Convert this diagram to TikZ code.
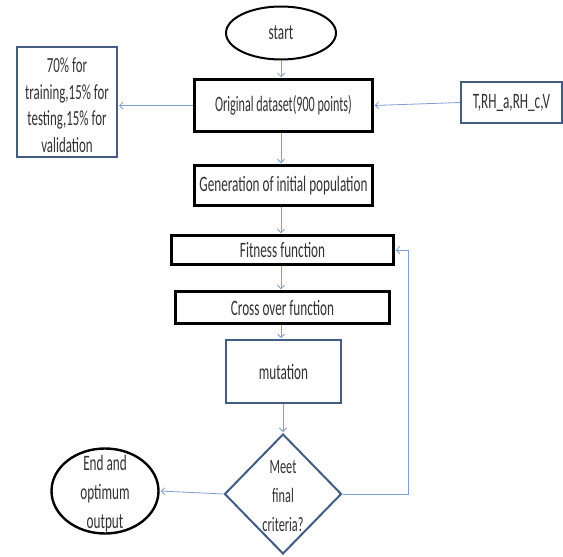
\documentclass[tikz,border=0pt]{standalone}
\usepackage{fontspec}
\setmainfont{Carlito}[FakeStretch=0.6]
\newfontfamily\tightfont{Carlito}[FakeStretch=0.55]
\usetikzlibrary{shapes.geometric,arrows.meta}
\definecolor{conncol}{RGB}{128,158,208}
\definecolor{bluebd}{RGB}{68,92,132}
\definecolor{txtcol}{RGB}{50,50,50}
\begin{document}
\begin{tikzpicture}[x=1pt,y=-1pt,
  font=\fontsize{22}{29}\selectfont, text=txtcol,
  boxk/.style={rectangle, draw=black, line width=2.5pt, inner sep=0pt},
  boxb/.style={rectangle, draw=bluebd, line width=2pt, inner sep=0pt},
  ovalk/.style={ellipse, draw=black, line width=2pt, inner sep=0pt},
  txtn/.style={align=center, inner sep=0pt},
  conn/.style={draw=conncol, line width=0.8pt, -{Straight Barb[length=3.5pt,width=7pt]}, shorten >=1pt}]
\useasboundingbox (0,0) rectangle (563,557);
\fill[white] (0,0) rectangle (563,557);
% nodes
\node[ovalk, minimum width=110pt, minimum height=53pt] (start) at (281,33) {start};
\node[boxk, minimum width=178pt, minimum height=52pt, font=\tightfont\fontsize{22}{29}\selectfont] (orig) at (283.5,105.5) {Original dataset(900 points)};
\node[boxb, minimum width=100pt, minimum height=110pt] (split) at (67,102) {};
\node[txtn, font=\fontsize{21.5}{26.5}\selectfont] (splitt) at (67,105) {70\% for\\training,15\% for\\testing,15\% for\\validation};
\node[boxb, minimum width=101pt, minimum height=41pt] (inp) at (511.5,102.5) {T,RH\_a,RH\_c,V};
\node[boxk, minimum width=178pt, minimum height=40pt] (gen) at (283.5,185.5) {Generation of initial population};
\node[boxk, minimum width=222pt, minimum height=29pt] (fit) at (282.5,250) {Fitness function};
\node[boxk, minimum width=214pt, minimum height=32pt] (cross) at (282.5,307.5) {Cross over function};
\node[boxb, minimum width=115pt, minimum height=63pt] (mut) at (283.5,371.5) {mutation};
\node[diamond, draw=bluebd, line width=2pt, inner sep=0pt, minimum width=117pt, minimum height=120pt] (dia) at (283,494) {};
\node[txtn, font=\fontsize{20.5}{29}\selectfont] (diat) at (283,496) {Meet\\final\\criteria?};
\node[ovalk, line width=2.4pt, minimum width=107pt, minimum height=85pt] (end) at (105,491) {};
\node[txtn] (endt) at (105,494) {End and\\optimum\\output};
\coordinate (fb) at (408,494);
% connectors
\draw[conn] (start.south) -- (start.south |- orig.north);
\draw[conn] (orig.west) -- (split.east |- orig.west);
\draw[conn] (inp.west) -- (orig.east);
\draw[conn] (orig.south -| start.south) -- (gen.north -| start.south);
\draw[conn] (gen.south -| start.south) -- (fit.north -| start.south);
\draw[conn] (fit.south -| start.south) -- (cross.north -| start.south);
\draw[conn] (cross.south -| start.south) -- (mut.north -| start.south);
\draw[conn] (mut.south -| dia.north) -- (dia.north);
\draw[conn] (dia.west) -- (end.east);
\draw[conn] (dia.east) -- (fb) |- (fit.east);
\end{tikzpicture}
\end{document}
